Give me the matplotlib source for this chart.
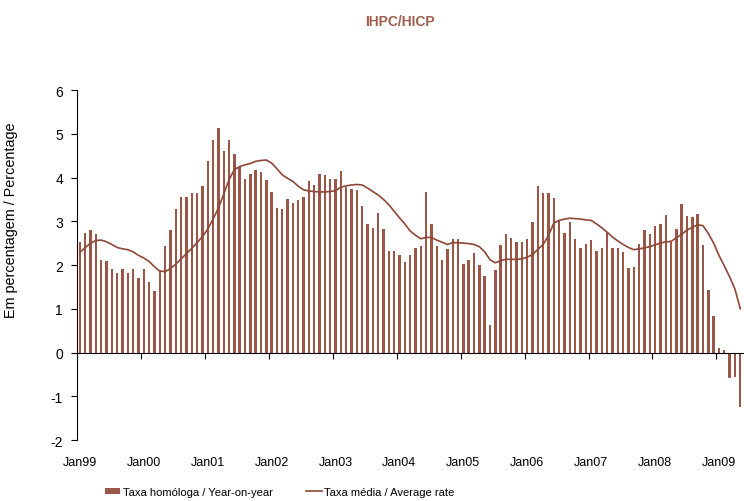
import matplotlib
matplotlib.use("Agg")
import matplotlib.pyplot as plt
import matplotlib.transforms as mtransforms
import numpy as np

# Taxa homóloga (mensal) Jan99 .. Mai09
yoy_1999 = [2.53, 2.73, 2.81, 2.71, 2.11, 2.10, 1.91, 1.82, 1.91, 1.82, 1.90, 1.71]
yoy_2000 = [1.90, 1.62, 1.41, 1.88, 2.44, 2.81, 3.29, 3.56, 3.56, 3.64, 3.64, 3.81]
yoy_2001 = [4.38, 4.86, 5.14, 4.61, 4.86, 4.54, 4.25, 3.97, 4.08, 4.18, 4.13, 3.94]
yoy_2002 = [3.67, 3.30, 3.28, 3.52, 3.41, 3.49, 3.56, 3.93, 3.83, 4.08, 4.05, 3.96]
yoy_2003 = [3.96, 4.14, 3.78, 3.74, 3.71, 3.36, 2.94, 2.85, 3.18, 2.82, 2.31, 2.31]
yoy_2004 = [2.24, 2.07, 2.24, 2.38, 2.44, 3.67, 2.94, 2.44, 2.12, 2.36, 2.60, 2.60]
yoy_2005 = [2.03, 2.12, 2.27, 2.00, 1.75, 0.62, 1.89, 2.46, 2.70, 2.61, 2.52, 2.52]
yoy_2006 = [2.60, 2.98, 3.80, 3.65, 3.64, 3.53, 3.01, 2.73, 2.98, 2.60, 2.38, 2.49]
yoy_2007 = [2.57, 2.32, 2.39, 2.75, 2.38, 2.39, 2.29, 1.94, 1.95, 2.47, 2.79, 2.72]
yoy_2008 = [2.89, 2.93, 3.14, 2.52, 2.82, 3.39, 3.11, 3.09, 3.17, 2.46, 1.43, 0.83]
yoy_2009 = [0.10, 0.05, -0.59, -0.57, -1.25]

# Taxa média
avg_1999 = [2.29, 2.40, 2.50, 2.56, 2.57, 2.53, 2.47, 2.40, 2.37, 2.35, 2.30, 2.22]
avg_2000 = [2.16, 2.08, 1.96, 1.86, 1.85, 1.92, 2.02, 2.14, 2.26, 2.38, 2.51, 2.65]
avg_2001 = [2.82, 3.05, 3.30, 3.62, 3.95, 4.18, 4.25, 4.29, 4.32, 4.37, 4.39, 4.40]
avg_2002 = [4.33, 4.20, 4.06, 3.98, 3.91, 3.80, 3.72, 3.69, 3.68, 3.67, 3.67, 3.68]
avg_2003 = [3.70, 3.78, 3.81, 3.83, 3.84, 3.83, 3.76, 3.68, 3.60, 3.50, 3.38, 3.23]
avg_2004 = [3.08, 2.94, 2.78, 2.68, 2.60, 2.63, 2.63, 2.57, 2.52, 2.47, 2.51, 2.51]
avg_2005 = [2.50, 2.49, 2.47, 2.42, 2.30, 2.12, 2.05, 2.10, 2.13, 2.13, 2.13, 2.14]
avg_2006 = [2.18, 2.24, 2.36, 2.47, 2.68, 2.96, 3.02, 3.05, 3.07, 3.06, 3.05, 3.03]
avg_2007 = [3.02, 2.94, 2.85, 2.75, 2.64, 2.55, 2.47, 2.40, 2.35, 2.37, 2.39, 2.42]
avg_2008 = [2.46, 2.50, 2.53, 2.54, 2.62, 2.70, 2.80, 2.86, 2.92, 2.90, 2.72, 2.50]
avg_2009 = [2.22, 1.98, 1.73, 1.45, 1.00]

year_labels = ["Jan99", "Jan00", "Jan01", "Jan02", "Jan03", "Jan04",
               "Jan05", "Jan06", "Jan07", "Jan08", "Jan09"]
y_ticks = [-2, -1, 0, 1, 2, 3, 4, 5, 6]

yoy = (yoy_1999 + yoy_2000 + yoy_2001 + yoy_2002 + yoy_2003 + yoy_2004
       + yoy_2005 + yoy_2006 + yoy_2007 + yoy_2008 + yoy_2009)
avg = (avg_1999 + avg_2000 + avg_2001 + avg_2002 + avg_2003 + avg_2004
       + avg_2005 + avg_2006 + avg_2007 + avg_2008 + avg_2009)
x = np.arange(len(yoy))

plt.rcParams['font.family'] = ['Liberation Sans Narrow', 'Liberation Sans', 'DejaVu Sans']

bar_color = '#9a5646'
line_color = '#8e4636'

fig = plt.figure(figsize=(7.44, 5.02), dpi=100)
ax = fig.add_axes([0.1035, 0.1215, 0.8965, 0.6972])

bars = ax.bar(x, yoy, width=0.45, color=bar_color)
line, = ax.plot(x, avg, color=line_color, linewidth=1.2)

ax.set_ylim(-2, 6)
ax.set_xlim(-0.55, len(yoy) - 0.3)
ax.set_yticks(y_ticks)
ax.set_yticklabels([str(v) for v in y_ticks], fontsize=10)
ax.tick_params(axis='y', direction='out', length=4, width=0.8, pad=6)

# eixo x na linha do zero, marcas entre anos
ax.spines['bottom'].set_position(('data', 0))
ax.spines['top'].set_visible(False)
ax.spines['right'].set_visible(False)
ax.spines['left'].set_linewidth(0.8)
ax.spines['bottom'].set_linewidth(0.8)
ax.set_xticks(np.arange(11.5, len(yoy), 12))
ax.set_xticklabels([])
ax.tick_params(axis='x', direction='out', length=4, width=0.8)

# rótulos dos anos em baixo
trans = mtransforms.blended_transform_factory(ax.transData, ax.transAxes)
for i, lab in enumerate(year_labels):
    ax.text(i * 12, -0.045, lab, transform=trans, ha='center', va='top', fontsize=9)

ax.set_ylabel('Em percentagem / Percentage', fontsize=10.4, family='Liberation Sans')
ax.yaxis.set_label_coords(-0.088, 0.631)

fig.text(0.538, 0.956, 'IHPC/HICP', ha='center', va='center', family='Liberation Sans',
         fontsize=10, fontweight='bold', color='#a0604e')

fig.legend([bars, line], ['Taxa homóloga / Year-on-year', 'Taxa média / Average rate'],
           loc='center', bbox_to_anchor=(0.376, 0.018), ncol=2, frameon=False,
           fontsize=8.1, handlelength=1.4, handleheight=0.5, columnspacing=3.0,
           handletextpad=0.2)

fig.savefig('out.png', dpi=100)
